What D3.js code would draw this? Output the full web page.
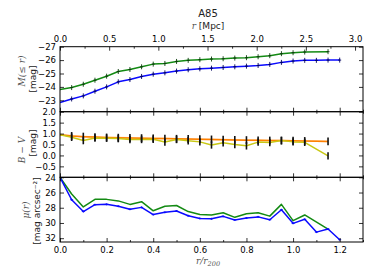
<!DOCTYPE html>
<html>
<head>
<meta charset="utf-8">
<script src="https://cdn.jsdelivr.net/npm/d3@7"></script>
<style>
  body { margin: 0; background: #fff; }
  svg { display: block; }
  .tick text { font-family: "DejaVu Sans", sans-serif; font-size: 8.5px; fill: #000; }
  .tick line { stroke: #000; stroke-width: 0.8; }
  .lab { font-family: "DejaVu Sans", sans-serif; font-size: 9px; fill: #222; }
  .math { font-family: "DejaVu Serif", serif; font-style: italic; font-size: 9px; fill: #555; }
</style>
</head>
<body>
<svg width="374" height="280"></svg>
<script>
// radius in units of r200, one entry per annulus
const rRel = [0, 0.05, 0.1, 0.15, 0.2, 0.25, 0.3, 0.35, 0.4, 0.45, 0.5, 0.55, 0.6,
              0.65, 0.7, 0.75, 0.8, 0.85, 0.9, 0.95, 1.0, 1.05, 1.1, 1.15, 1.2];
const r200Mpc = 2.37;

// cumulative magnitudes M(<= r)
const cumMagB = [-22.83, -23.1, -23.33, -23.68, -24.0, -24.38, -24.55, -24.78, -24.95, -25.05, -25.18, -25.28, -25.35,
                 -25.4, -25.45, -25.5, -25.55, -25.6, -25.68, -25.83, -25.93, -25.98, -25.98, -26.0, -26.0];
const cumMagV = [-23.8, -23.95, -24.2, -24.5, -24.8, -25.15, -25.3, -25.5, -25.7, -25.75, -25.9, -25.98, -26.03,
                 -26.08, -26.1, -26.15, -26.18, -26.25, -26.33, -26.48, -26.55, -26.6, null, -26.63, null];

// B - V colour profile and the fitted trend
const colorBV = [0.95, 0.83, 0.68, 0.80, 0.79, 0.77, 0.73, 0.73, 0.74, 0.61, 0.73, 0.67, 0.62,
                 0.48, 0.58, 0.50, 0.44, 0.61, 0.59, 0.68, 0.62, 0.60, null, -0.02, null];
const colorErr = [0, 0.17, 0.17, 0.17, 0.17, 0.17, 0.17, 0.17, 0.17, 0.17, 0.17, 0.17, 0.17,
                  0.17, 0.17, 0.17, 0.17, 0.17, 0.17, 0.17, 0.17, 0.17, null, 0.17, null];
const colorFit = [0.95, 0.89, 0.86, 0.84, 0.82, 0.81, 0.80, 0.79, 0.78, 0.77, 0.76, 0.75, 0.74,
                  0.73, 0.72, 0.71, 0.70, 0.69, 0.68, 0.68, 0.67, 0.66, 0.65, 0.64, null];
const fitErr = [0, 0.18, 0.18, 0.18, 0.18, 0.18, 0.18, 0.18, 0.18, 0.18, 0.18, 0.18, 0.18,
                0.18, 0.18, 0.18, 0.18, 0.18, 0.18, 0.18, 0.18, 0.18, null, 0.18, null];
const fitBand = [0.04, 0.04, 0.04, 0.04, 0.04, 0.04, 0.04, 0.04, 0.04, 0.04, 0.04, 0.04, 0.04,
                 0.04, 0.04, 0.04, 0.04, 0.04, 0.04, 0.04, 0.04, 0.04, 0.04, 0.04, null];

// surface brightness profiles
const muB = [24.0, 26.95, 28.5, 27.6, 27.55, 27.8, 28.2, 27.95, 28.9, 28.6, 28.43, 29.05, 29.4,
             29.45, 29.13, 29.6, 29.35, 29.2, 29.57, 28.26, 30.05, 29.52, 31.2, 30.8, 32.2];
const muV = [24.0, 26.2, 27.9, 26.9, 26.9, 27.1, 27.56, 27.2, 28.4, 27.8, 27.7, 28.5, 28.9,
             28.95, 28.65, 29.26, 28.8, 28.65, 29.1, 27.56, 29.7, 28.95, null, 30.8, null];

// tick labels
const xTicks = [0, 0.2, 0.4, 0.6, 0.8, 1.0, 1.2];
const xMinor = [0.1, 0.3, 0.5, 0.7, 0.9, 1.1, 1.3];
const mpcTicks = [0, 0.5, 1.0, 1.5, 2.0, 2.5, 3.0];
const mpcMinor = [0.25, 0.75, 1.25, 1.75, 2.25, 2.75];
const magTicks = [-27, -26, -25, -24, -23];
const bvTicks = [2.0, 1.5, 1.0, 0.5, 0.0, -0.5];
const muTicks = [24, 26, 28, 30, 32];

const svg = d3.select('svg');
const L = 60, R = 363;
const tops = [46.7, 111.7, 177.3, 242];
const minus = s => s.replace('-', '\u2212');

const x = d3.scaleLinear().domain([0, 1.3]).range([L, R]);
const xMpc = d3.scaleLinear().domain([0, 1.3 * r200Mpc]).range([L, R]);
const yMag = d3.scaleLinear().domain([-27, -22.15]).range([tops[0], tops[1]]);
const yBV = d3.scaleLinear().domain([2.0, -1.0]).range([tops[1], tops[2]]);
const yMu = d3.scaleLinear().domain([24, 32.5]).range([tops[2], tops[3]]);

const clipId = ['c0', 'c1', 'c2'];
const defs = svg.append('defs');
tops.slice(0, 3).forEach((t, i) => {
  defs.append('clipPath').attr('id', clipId[i])
    .append('rect').attr('x', L).attr('y', t).attr('width', R - L).attr('height', tops[i + 1] - t);
});

function axes(i, y, yTicks, fmt) {
  const g = svg.append('g');
  const t = tops[i], b = tops[i + 1];
  g.append('g').attr('transform', `translate(${L},0)`)
    .call(d3.axisLeft(y).tickValues(yTicks).tickSizeInner(-4).tickSizeOuter(0).tickPadding(4)
      .tickFormat(d => minus(fmt(d))));
  g.append('g').attr('transform', `translate(${R},0)`)
    .call(d3.axisRight(y).tickValues(yTicks).tickSizeInner(-4).tickSizeOuter(0).tickFormat(''));
  // bottom x ticks
  g.append('g').attr('transform', `translate(0,${b})`)
    .call(d3.axisBottom(x).tickValues(xTicks).tickSizeInner(-4).tickSizeOuter(0).tickPadding(5)
      .tickFormat(i === 2 ? d3.format('.1f') : ''));
  g.append('g').attr('transform', `translate(0,${b})`)
    .call(d3.axisBottom(x).tickValues(xMinor).tickSizeInner(-2).tickSizeOuter(0).tickFormat(''));
  // top x ticks
  if (i === 0) {
    g.append('g').attr('transform', `translate(0,${t})`)
      .call(d3.axisTop(xMpc).tickValues(mpcTicks).tickSizeInner(-4).tickSizeOuter(0).tickPadding(5)
        .tickFormat(d3.format('.1f')));
    g.append('g').attr('transform', `translate(0,${t})`)
      .call(d3.axisTop(xMpc).tickValues(mpcMinor).tickSizeInner(-2).tickSizeOuter(0).tickFormat(''));
  } else {
    g.append('g').attr('transform', `translate(0,${t})`)
      .call(d3.axisTop(x).tickValues(xTicks).tickSizeInner(-4).tickSizeOuter(0).tickFormat(''));
    g.append('g').attr('transform', `translate(0,${t})`)
      .call(d3.axisTop(x).tickValues(xMinor).tickSizeInner(-2).tickSizeOuter(0).tickFormat(''));
  }
  g.selectAll('.domain').remove();
  svg.append('rect').attr('x', L).attr('y', t).attr('width', R - L).attr('height', b - t)
    .attr('fill', 'none').attr('stroke', '#000').attr('stroke-width', 1);
}

// missing annuli are skipped, the line joins its neighbours
function line(i, y, vals, color, w) {
  const pts = rRel.map((r, k) => [r, vals[k]]).filter(d => d[1] != null);
  svg.append('path').datum(pts)
    .attr('clip-path', `url(#${clipId[i]})`)
    .attr('d', d3.line().x(d => x(d[0])).y(d => y(d[1])))
    .attr('fill', 'none').attr('stroke', color).attr('stroke-width', w).attr('stroke-linejoin', 'round');
  return pts;
}

function marks(i, y, pts, color, h) {
  svg.append('g').attr('clip-path', `url(#${clipId[i]})`)
    .selectAll('path').data(pts.filter(d => d[0] > 0)).join('path')
    .attr('d', d => `M${x(d[0])},${y(d[1]) - h}V${y(d[1]) + h}M${x(d[0]) - 1.5},${y(d[1])}H${x(d[0]) + 1.5}`)
    .attr('stroke', color).attr('stroke-width', 0.9);
}

// --- top panel: cumulative magnitude
const pv = line(0, yMag, cumMagV, '#138a13', 1.5);
const pb = line(0, yMag, cumMagB, '#0a0aff', 1.5);
marks(0, yMag, pv, '#0b3d0b', 2.5);
marks(0, yMag, pb, '#000060', 2.5);
axes(0, yMag, magTicks, d3.format('d'));

// --- middle panel: B - V
svg.append('path').datum(rRel.map((r, k) => [r, colorFit[k], fitBand[k]]).filter(d => d[1] != null))
  .attr('clip-path', 'url(#c1)')
  .attr('d', d3.area().x(d => x(d[0]))
    .y0(d => yBV(d[1] - d[2])).y1(d => yBV(d[1] + d[2])))
  .attr('fill', '#ffbb77').attr('opacity', 0.8);
line(1, yBV, colorFit, '#ff8000', 1.5);
line(1, yBV, colorBV, '#c8c814', 1.5);
function errBars(vals, errs) {
  svg.append('g').selectAll('line')
    .data(rRel.map((r, k) => [r, vals[k], errs[k]]).filter(d => d[1] != null && d[2] != null && d[0] > 0))
    .join('line')
    .attr('x1', d => x(d[0])).attr('x2', d => x(d[0]))
    .attr('y1', d => yBV(d[1] - d[2])).attr('y2', d => yBV(d[1] + d[2]))
    .attr('stroke', '#111').attr('stroke-width', 1.6);
}
errBars(colorFit, fitErr);
errBars(colorBV, colorErr);
axes(1, yBV, bvTicks, d3.format('.1f'));

// --- bottom panel: surface brightness
const sv = line(2, yMu, muV, '#138a13', 1.5);
const sb = line(2, yMu, muB, '#0a0aff', 1.5);
marks(2, yMu, sb, '#0a0aff', 1);
axes(2, yMu, muTicks, d3.format('d'));

// --- titles and labels
svg.append('text').attr('class', 'lab').attr('x', 208).attr('y', 17)
  .attr('text-anchor', 'middle').style('font-size', '10px').text('A85');
const topLab = svg.append('text').attr('class', 'lab').attr('x', 208).attr('y', 29).attr('text-anchor', 'middle');
topLab.append('tspan').attr('class', 'math').text('r');
topLab.append('tspan').text(' [Mpc]');

const botLab = svg.append('text').attr('class', 'math').attr('x', 208).attr('y', 264).attr('text-anchor', 'middle');
botLab.append('tspan').text('r/r');
botLab.append('tspan').attr('dy', 2).style('font-size', '6.5px').text('200');

function ylab(cx1, cx2, cy1, cy2, parts, unit) {
  const t1 = svg.append('text').attr('transform', `translate(${cx1},${cy1}) rotate(-90)`)
    .attr('text-anchor', 'middle').attr('class', 'math');
  parts(t1);
  svg.append('text').attr('transform', `translate(${cx2},${cy2}) rotate(-90)`)
    .attr('text-anchor', 'middle').attr('class', 'lab').text(unit);
}
ylab(25, 36, 71, 79, t => t.text('M(\u2264 r)'), '[mag]');
ylab(25, 36, 150, 143, t => t.text('B \u2212 V'), '[mag]');
ylab(29, 40, 210, 211, t => t.text('\u03bc(r)'), '[mag arcsec\u207b\u00b2]');
</script>
</body>
</html>
